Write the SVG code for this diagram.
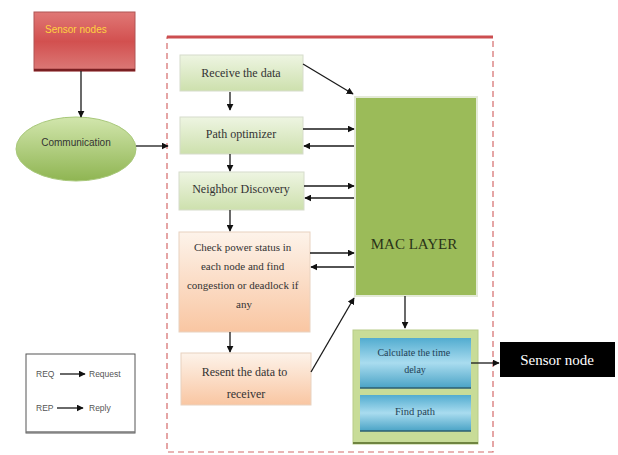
<svg xmlns="http://www.w3.org/2000/svg" width="618" height="455" viewBox="0 0 618 455">
<defs>
<linearGradient id="gGreen" x1="0" y1="0" x2="0" y2="1"><stop offset="0" stop-color="#eef5e2"/><stop offset="1" stop-color="#cde0ad"/></linearGradient>
<linearGradient id="gOrange" x1="0" y1="0" x2="0" y2="1"><stop offset="0" stop-color="#fdf3ea"/><stop offset="1" stop-color="#f9c6a2"/></linearGradient>
<linearGradient id="gBlue" x1="0" y1="0" x2="0" y2="1"><stop offset="0" stop-color="#52acd0"/><stop offset="0.5" stop-color="#a9dcef"/><stop offset="1" stop-color="#4aa3c6"/></linearGradient>
<linearGradient id="gRed" x1="0" y1="0" x2="0" y2="1"><stop offset="0" stop-color="#e07876"/><stop offset="0.5" stop-color="#d2504f"/><stop offset="1" stop-color="#dc7a78"/></linearGradient>
<linearGradient id="gEll" x1="0" y1="0" x2="0" y2="1"><stop offset="0" stop-color="#d2e6ad"/><stop offset="1" stop-color="#8fb552"/></linearGradient>
<marker id="ah" viewBox="0 0 10 10" refX="9" refY="5" markerWidth="7" markerHeight="7" orient="auto" markerUnits="userSpaceOnUse"><path d="M0,0 L10,5 L0,10 z" fill="#111"/></marker>
</defs>
<style>
.box{stroke:#d6dccb;stroke-width:1}
.serif{font-family:"Liberation Serif","Times New Roman",serif;text-anchor:middle}
.sans{font-family:"Liberation Sans",Arial,sans-serif}
.ln{stroke:#1a1a1a;stroke-width:1.3;fill:none;marker-end:url(#ah)}
</style>
<rect width="618" height="455" fill="#fff"/>

<g id="frame">
<rect x="167" y="37" width="326" height="415" fill="none" stroke="#d46a6a" stroke-width="1.2" stroke-dasharray="6,4"/>
<line x1="167" y1="37" x2="493" y2="37" stroke="#cc4e50" stroke-width="3"/>
</g>

<g id="sensor-nodes">
<rect x="34" y="12" width="101" height="59" fill="url(#gRed)" stroke="#b05555" stroke-width="1"/>
<line x1="34" y1="70" x2="135" y2="70" stroke="#7a1f22" stroke-width="2.5"/>
<text x="45" y="33" class="sans" font-size="10" fill="#ffd23f">Sensor nodes</text>
</g>

<g id="communication">
<ellipse cx="76" cy="149" rx="60" ry="32" fill="url(#gEll)" stroke="#a8c87a" stroke-width="1"/>
<text x="76" y="146" class="sans" font-size="10" fill="#333" text-anchor="middle">Communication</text>
</g>

<g id="receive">
<rect x="180" y="55" width="123" height="36" fill="url(#gGreen)" class="box"/>
<text x="241" y="77" class="serif" font-size="12" fill="#333">Receive the data</text>
</g>

<g id="path-optimizer">
<rect x="180" y="117" width="123" height="37" fill="url(#gGreen)" class="box"/>
<text x="241" y="138" class="serif" font-size="12" fill="#333">Path optimizer</text>
</g>

<g id="neighbor">
<rect x="179" y="172" width="125" height="38" fill="url(#gGreen)" class="box"/>
<text x="241" y="193" class="serif" font-size="12" fill="#333">Neighbor Discovery</text>
</g>

<g id="check-power">
<rect x="179" y="232" width="131" height="100" fill="url(#gOrange)" stroke="#e8d2c0" stroke-width="1"/>
<text class="serif" font-size="11" fill="#333">
<tspan x="244" y="251">Check power status  in</tspan>
<tspan x="244" y="270">each node and find</tspan>
<tspan x="244" y="289">congestion or deadlock if</tspan>
<tspan x="244" y="308">any</tspan>
</text>
</g>

<g id="resent">
<rect x="181" y="353" width="130" height="52" fill="url(#gOrange)" stroke="#e8d2c0" stroke-width="1"/>
<text class="serif" font-size="12" fill="#333">
<tspan x="246" y="376">Resent the data to</tspan>
<tspan x="246" y="398">receiver</tspan>
</text>
</g>

<g id="mac-layer">
<rect x="355" y="97" width="122" height="199" fill="#9bbb59" stroke="#e4ead8" stroke-width="2"/>
<text x="414" y="249" class="serif" font-size="15" fill="#2a3318">MAC LAYER</text>
</g>

<g id="calc-group">
<rect x="353" y="330" width="125" height="114" fill="#c8dc98" stroke="#b8cc88" stroke-width="1"/>
<line x1="353" y1="443" x2="478" y2="443" stroke="#6f8440" stroke-width="2"/>
<g id="calc-delay">
<rect x="360" y="338" width="111" height="50" fill="url(#gBlue)"/>
<line x1="360" y1="388" x2="471" y2="388" stroke="#2d5f70" stroke-width="1.5"/>
<text class="serif" font-size="10" fill="#1f3f55">
<tspan x="415" y="356">Calculate the time</tspan>
<tspan x="415" y="373">delay</tspan>
</text>
</g>
<g id="find-path">
<rect x="360" y="395" width="111" height="36" fill="url(#gBlue)"/>
<line x1="360" y1="431" x2="471" y2="431" stroke="#2d5f70" stroke-width="1.5"/>
<text x="415" y="415" class="serif" font-size="10.5" fill="#1f3f55">Find path</text>
</g>
</g>

<g id="sensor-node">
<rect x="500" y="342" width="115" height="35" fill="#000"/>
<text x="557" y="365" class="serif" font-size="15" fill="#fff">Sensor node</text>
</g>

<g id="legend">
<rect x="26" y="354" width="109" height="79" fill="#fff" stroke="#555" stroke-width="1"/>
<line x1="26" y1="432" x2="135" y2="432" stroke="#777" stroke-width="1.5"/>
<text x="36" y="377" class="sans" font-size="8.5" fill="#555">REQ</text>
<line x1="60" y1="374" x2="85" y2="374" class="ln"/>
<text x="89" y="377" class="sans" font-size="8.5" fill="#555">Request</text>
<text x="36" y="411" class="sans" font-size="8.5" fill="#555">REP</text>
<line x1="57" y1="408" x2="83" y2="408" class="ln"/>
<text x="89" y="411" class="sans" font-size="8.5" fill="#555">Reply</text>
</g>

<g id="connectors">
<line x1="81" y1="71" x2="81" y2="117" class="ln"/>
<line x1="136" y1="146" x2="168" y2="146" class="ln"/>
<line x1="230" y1="92" x2="230" y2="110" class="ln"/>
<line x1="230" y1="154" x2="230" y2="171" class="ln"/>
<line x1="230" y1="210" x2="230" y2="231" class="ln"/>
<line x1="230" y1="332" x2="230" y2="352" class="ln"/>
<line x1="303" y1="64" x2="353" y2="94" class="ln"/>
<line x1="303" y1="129" x2="354" y2="129" class="ln"/>
<line x1="354" y1="146" x2="304" y2="146" class="ln"/>
<line x1="304" y1="186" x2="354" y2="186" class="ln"/>
<line x1="354" y1="198" x2="305" y2="198" class="ln"/>
<line x1="310" y1="253" x2="354" y2="253" class="ln"/>
<line x1="354" y1="267" x2="311" y2="267" class="ln"/>
<line x1="311" y1="372" x2="354" y2="298" class="ln"/>
<line x1="405" y1="296" x2="405" y2="328" class="ln"/>
<line x1="471" y1="363" x2="499" y2="363" class="ln"/>
</g>
</svg>
